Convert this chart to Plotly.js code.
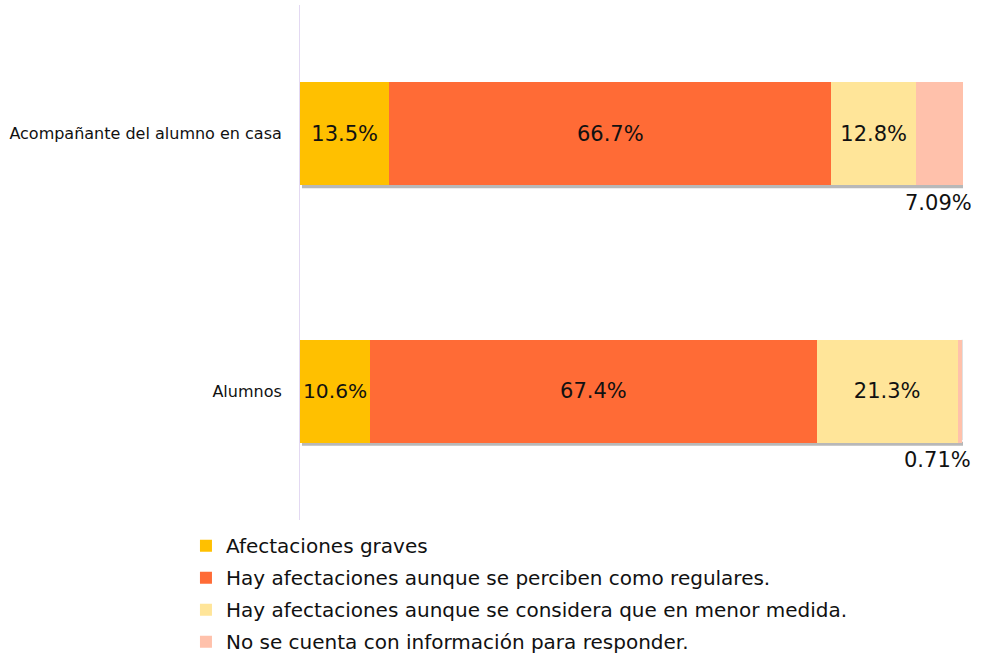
<!DOCTYPE html>
<html>
<head>
<meta charset="utf-8">
<script src="https://cdn.plot.ly/plotly-3.0.1.min.js"></script>
<style>html,body{margin:0;padding:0;background:#fff;}#chart{width:987px;height:655px;}</style>
</head>
<body>
<div id="chart"></div>
<script>
const categories = ['Alumnos', 'Acompañante del alumno en casa'];
const seriesNames = [
  'Afectaciones graves',
  'Hay afectaciones aunque se perciben como regulares.',
  'Hay afectaciones aunque se considera que en menor medida.',
  'No se cuenta con información para responder.'
];
const graves = [10.6, 13.5];
const regulares = [67.4, 66.7];
const menor = [21.3, 12.8];
const noInfo = [0.71, 7.09];
const colors = ['#FFC000', '#FF6B36', '#FFE599', '#FFC1AB'];

const FONT = '"DejaVu Sans", "Noto Sans", sans-serif';
const series = [graves, regulares, menor, noInfo];

const traces = series.map((vals, i) => ({
  type: 'bar',
  orientation: 'h',
  name: seriesNames[i],
  legendgroup: 'g' + i,
  y: categories,
  x: vals,
  marker: {color: colors[i], line: {width: 0}},
  text: i < 3 ? vals.map(v => v + '%') : vals.map(() => ''),
  texttemplate: i < 3 ? '%{text}' : '',
  textposition: i < 3 ? 'inside' : 'none',
  insidetextanchor: 'middle',
  textangle: 0,
  textfont: {family: FONT, size: 21, color: '#111'},
  hoverinfo: 'skip'
}));

const totals = categories.map((_, k) => series.reduce((s, arr) => s + arr[k], 0));

const annotations = categories.map((c, k) => ({
  x: totals[k], y: k, xref: 'x', yref: 'y',
  text: noInfo[k] + '%', showarrow: false,
  xanchor: 'right', yanchor: 'middle',
  xshift: 11, yshift: -69,
  font: {family: FONT, size: 21, color: '#111'}
}));

const shapes = [];
categories.forEach((c, k) => {
  shapes.push({
    type: 'rect', layer: 'below', xref: 'x', yref: 'y',
    ysizemode: 'pixel', yanchor: k - 0.2,
    x0: 0.3, x1: totals[k] + 0.2, y0: -3, y1: 1,
    fillcolor: 'rgba(0,0,0,0.28)', line: {width: 0}
  });
  shapes.push({
    type: 'rect', layer: 'below', xref: 'x', yref: 'y',
    xsizemode: 'pixel', xanchor: totals[k],
    x0: -1, x1: 2, y0: k - 0.19, y1: k + 0.2,
    fillcolor: 'rgba(0,0,0,0.12)', line: {width: 0}
  });
});

const layout = {
  width: 987, height: 655,
  margin: {l: 300, r: 24, t: 5, b: 135, pad: 0, autoexpand: false},
  paper_bgcolor: '#fff', plot_bgcolor: '#fff',
  barmode: 'stack',
  bargap: 0.6,
  font: {family: FONT, color: '#111'},
  xaxis: {range: [0, totals[1]], visible: false, fixedrange: true},
  yaxis: {
    type: 'category', range: [-0.5, 1.5],
    showline: true, linecolor: '#E3D9F2', linewidth: 1,
    ticks: '', ticklen: 0, showgrid: false, zeroline: false,
    tickfont: {family: FONT, size: 16, color: '#111'},
    ticklabelstandoff: 14
  },
  showlegend: true,
  legend: {
    orientation: 'v', x: -0.172, xanchor: 'left', y: -0.012, yanchor: 'top',
    font: {family: FONT, size: 20, color: '#111'},
    traceorder: 'grouped', itemwidth: 30, tracegroupgap: 3,
    bgcolor: 'rgba(0,0,0,0)'
  },
  annotations: annotations,
  shapes: shapes
};

Plotly.newPlot('chart', traces, layout, {displayModeBar: false, staticPlot: true});
</script>
</body>
</html>
